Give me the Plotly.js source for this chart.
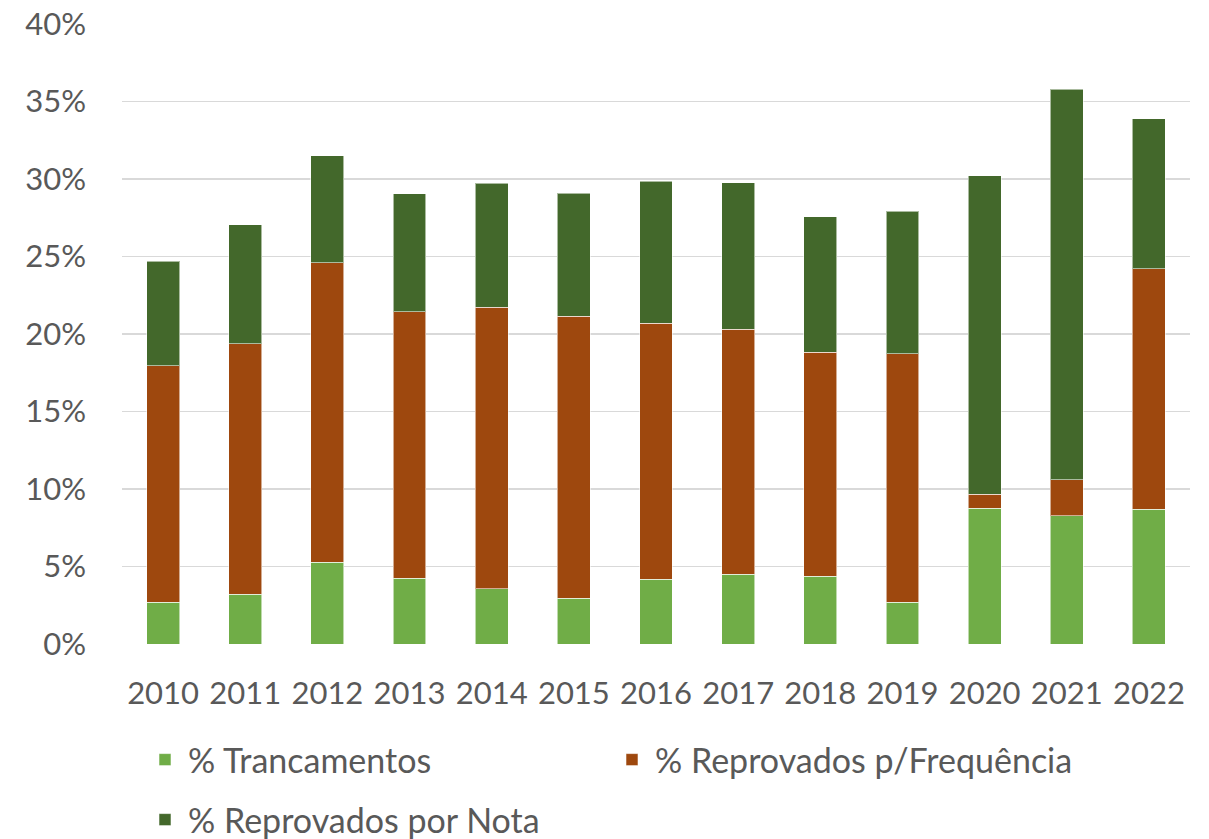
<!DOCTYPE html>
<html>
<head>
<meta charset="utf-8">
<script src="https://cdn.plot.ly/plotly-3.0.1.min.js"></script>
<style>
  html, body { margin: 0; padding: 0; background: #fff; }
  #plot { width: 1209px; height: 839px; }
</style>
</head>
<body>
<div id="plot"></div>
<script>
// anos
var anos = ["2010", "2011", "2012", "2013", "2014", "2015", "2016",
            "2017", "2018", "2019", "2020", "2021", "2022"];

// valores em % (altura de cada segmento da pilha)
var trancamentos = [2.71, 3.22, 5.29, 4.24, 3.57, 2.95, 4.17, 4.50, 4.37, 2.69, 8.77, 8.28, 8.71];
var reprovFrequencia = [15.25, 16.16, 19.32, 17.21, 18.17, 18.21, 16.54, 15.80, 14.45, 16.05, 0.89, 2.33, 15.51];
var reprovNota = [6.73, 7.68, 6.90, 7.61, 7.98, 7.92, 9.16, 9.47, 8.73, 9.18, 20.56, 25.19, 9.68];

var fonte = "Lato, 'Open Sans', sans-serif";
var cinza = "#595959";
var borda = { color: "rgba(255,255,255,0.55)", width: 1 };

var trace1 = {
  x: anos,
  y: trancamentos,
  name: "% Trancamentos",
  type: "bar",
  marker: { color: "#70AD47", line: borda },
  legend: "legend"
};

var trace2 = {
  x: anos,
  y: reprovFrequencia,
  name: "% Reprovados p/Frequência",
  type: "bar",
  marker: { color: "#9E480E", line: borda },
  legend: "legend2"
};

var trace3 = {
  x: anos,
  y: reprovNota,
  name: "% Reprovados por Nota",
  type: "bar",
  marker: { color: "#43682B", line: borda },
  legend: "legend3"
};

var data = [trace1, trace2, trace3];

function legenda(x, y) {
  return {
    xref: "container", yref: "container",
    x: x, y: y, xanchor: "left", yanchor: "middle",
    orientation: "h",
    itemwidth: 36,
    font: { family: fonte, size: 34, color: cinza },
    bgcolor: "rgba(0,0,0,0)",
    borderwidth: 0
  };
}

var layout = {
  width: 1209,
  height: 839,
  barmode: "stack",
  bargap: 0.6,
  paper_bgcolor: "#fff",
  plot_bgcolor: "#fff",
  margin: { l: 122, r: 19, t: 24, b: 195 },
  font: { family: fonte, color: cinza },
  showlegend: true,
  xaxis: {
    type: "category",
    showgrid: false,
    showline: false,
    zeroline: false,
    ticks: "",
    ticklabelstandoff: 28,
    tickfont: { family: fonte, size: 31, color: cinza }
  },
  yaxis: {
    range: [0, 40],
    dtick: 5,
    ticksuffix: "%",
    showgrid: true,
    gridcolor: "#d9d9d9",
    gridwidth: 1.5,
    zeroline: false,
    showline: false,
    ticks: "",
    ticklabelstandoff: 35,
    tickfont: { family: fonte, size: 31, color: cinza }
  },
  legend: legenda(142 / 1209, 1 - 760 / 839),
  legend2: legenda(609 / 1209, 1 - 760 / 839),
  legend3: legenda(142 / 1209, 1 - 820 / 839)
};

Plotly.newPlot("plot", data, layout, { displayModeBar: false, staticPlot: true });
</script>
</body>
</html>
